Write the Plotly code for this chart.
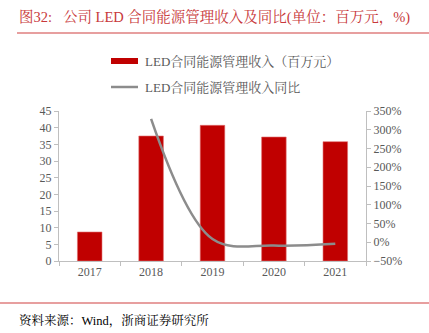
import plotly.graph_objects as go

years = ["2017", "2018", "2019", "2020", "2021"]
revenue = [8.7, 37.5, 40.7, 37.2, 35.8]
yoy_years = ["2018", "2019", "2020", "2021"]
yoy = [329, 8.5, -8.6, -3.8]

title_text = "图32:\u00a0\u00a0 公司 LED 合同能源管理收入及同比(单位：百万元，%)"
legend_bar = "LED合同能源管理收入（百万元）"
legend_line = "LED合同能源管理收入同比"
source_text = "资料来源：Wind，浙商证券研究所"

W, H = 429, 333
L, R, T, B = 59, 366, 111, 261
pw, ph = R - L, B - T

def px(x):
    return (x - L) / pw

def py(y):
    return (B - y) / ph

FONT = "Liberation Serif, Noto Serif CJK SC, Noto Sans CJK SC, serif"
RED = "#C00000"
GRAY_TXT = "#595959"
AX = "#BFBFBF"

fig = go.Figure()
fig.add_trace(go.Bar(x=years, y=revenue, marker=dict(color=RED, line=dict(color="#E07070", width=0.6)),
                     name=legend_bar, yaxis="y", showlegend=False))
fig.add_trace(go.Scatter(x=yoy_years, y=yoy, mode="lines", line=dict(color="#8C8C8C", width=2.5, shape="spline", smoothing=1.0),
                         name=legend_line, yaxis="y2", showlegend=False))

shapes = [
    dict(type="line", xref="paper", yref="paper", x0=px(17), x1=px(429), y0=py(33), y1=py(33),
         line=dict(color="#D04040", width=1.2)),
    dict(type="line", xref="paper", yref="paper", x0=px(0), x1=px(429), y0=py(303), y1=py(303),
         line=dict(color="#D04040", width=1.2)),
    dict(type="rect", xref="paper", yref="paper", x0=px(111), x1=px(138), y0=py(64), y1=py(58),
         fillcolor=RED, line=dict(width=0)),
    dict(type="line", xref="paper", yref="paper", x0=px(111), x1=px(138), y0=py(87), y1=py(87),
         line=dict(color="#8C8C8C", width=2.5)),
]

annotations = [
    dict(text=title_text, xref="paper", yref="paper", x=px(17), y=py(17), xanchor="left", yanchor="middle",
         showarrow=False, font=dict(family=FONT, size=14.5, color="#C8383A")),
    dict(text=legend_bar, xref="paper", yref="paper", x=px(143), y=py(61), xanchor="left", yanchor="middle",
         showarrow=False, font=dict(family=FONT, size=13, color=GRAY_TXT)),
    dict(text=legend_line, xref="paper", yref="paper", x=px(143), y=py(87), xanchor="left", yanchor="middle",
         showarrow=False, font=dict(family=FONT, size=13, color=GRAY_TXT)),
    dict(text=source_text, xref="paper", yref="paper", x=px(17), y=py(320), xanchor="left", yanchor="middle",
         showarrow=False, font=dict(family=FONT, size=12.5, color="#000000")),
]

fig.update_layout(
    width=W, height=H,
    margin=dict(l=L, r=W - R, t=T, b=H - B, pad=0),
    paper_bgcolor="white", plot_bgcolor="white",
    bargap=0.6,
    font=dict(family=FONT, size=12, color=GRAY_TXT),
    xaxis=dict(type="category", showgrid=False, showline=True, linecolor=AX, linewidth=1,
               ticks="outside", tickson="boundaries", ticklen=4, tickcolor=AX,
               tickfont=dict(family=FONT, size=12, color=GRAY_TXT)),
    yaxis=dict(range=[0, 45], dtick=5, showgrid=False, showline=True, linecolor=AX, linewidth=1,
               ticks="outside", ticklen=4, tickcolor=AX, zeroline=False,
               tickfont=dict(family=FONT, size=12, color=GRAY_TXT)),
    yaxis2=dict(range=[-50, 350], dtick=50, overlaying="y", side="right", showgrid=False,
                showline=True, linecolor=AX, linewidth=1, ticks="outside", ticklen=4, tickcolor=AX,
                ticksuffix="%", zeroline=False,
                tickfont=dict(family=FONT, size=12, color=GRAY_TXT)),
    shapes=shapes,
    annotations=annotations,
    showlegend=False,
)

fig.write_html("out.html")
